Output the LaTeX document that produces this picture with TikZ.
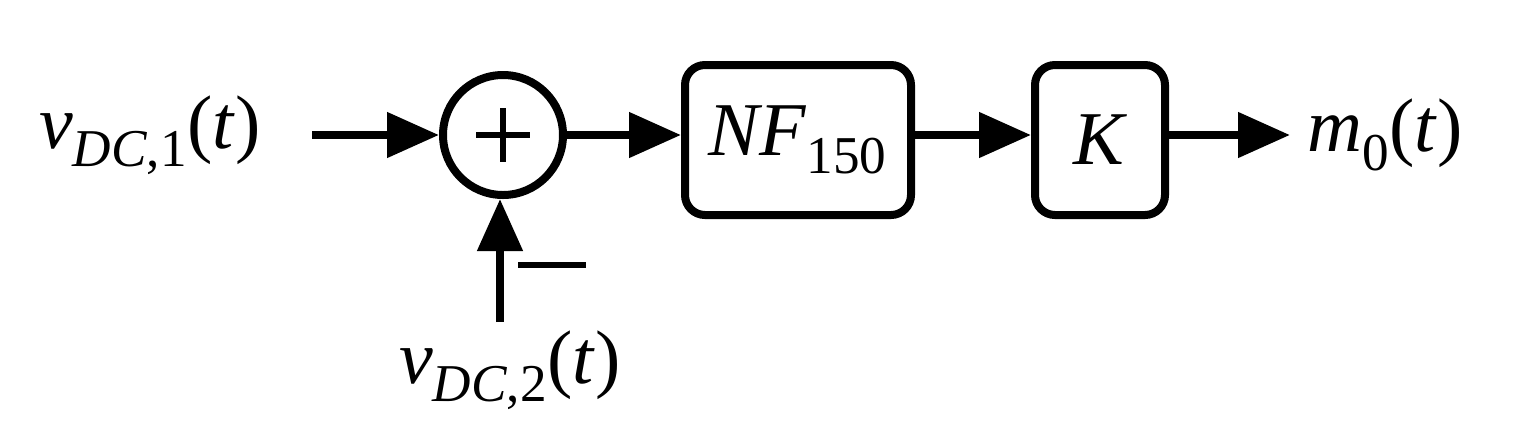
\documentclass[tikz,border=0pt]{standalone}
\usepackage{fontspec}
\setmainfont{Liberation Serif}
\usetikzlibrary{arrows.meta}
\begin{document}
\begin{tikzpicture}[x=0.5pt,y=-0.5pt,
  conn/.style={line width=4pt,-{Triangle[length=26pt,width=22pt]}},
  blk/.style={draw,line width=4pt,rounded corners=10pt,inner sep=0pt},
  lbl/.style={font=\fontsize{38}{42}\selectfont,inner sep=0pt}]
\useasboundingbox (0,0) rectangle (1538,446);
\node[lbl] (in1) at (150,135) {\textit{v}\textsubscript{\textit{DC},1}(\textit{t})};
\node[draw,circle,line width=4pt,minimum size=60pt,inner sep=0pt] (sum) at (503,135) {};
\draw[line width=3pt] (503,108) -- (503,162) (476,135) -- (530,135);
\node[blk,minimum width=113pt,minimum height=75pt] (nf) at (798,140) {\fontsize{38}{42}\selectfont\textit{NF}\textsubscript{150}};
\node[blk,minimum width=65pt,minimum height=75pt] (k) at (1100,140) {\fontsize{38}{42}\selectfont\textit{K}};
\node[lbl] (out) at (1385,135) {\textit{m}\textsubscript{0}(\textit{t})};
\node[lbl] (in2) at (510,370) {\textit{v}\textsubscript{\textit{DC},2}(\textit{t})};
\coordinate (s1) at (312,135);
\coordinate (s2) at (500,322);
\coordinate (e3) at (1290,135);
\draw[conn] (s1) -- (sum.west);
\draw[conn] (sum.east) -- (nf.west |- sum.east);
\draw[conn] (nf.east |- sum.east) -- (k.west |- sum.east);
\draw[conn] (k.east |- sum.east) -- (e3);
\draw[conn] (s2) -- (s2 |- sum.south);
\draw[line width=3pt] (518,265) -- (586,265);
\end{tikzpicture}
\end{document}
